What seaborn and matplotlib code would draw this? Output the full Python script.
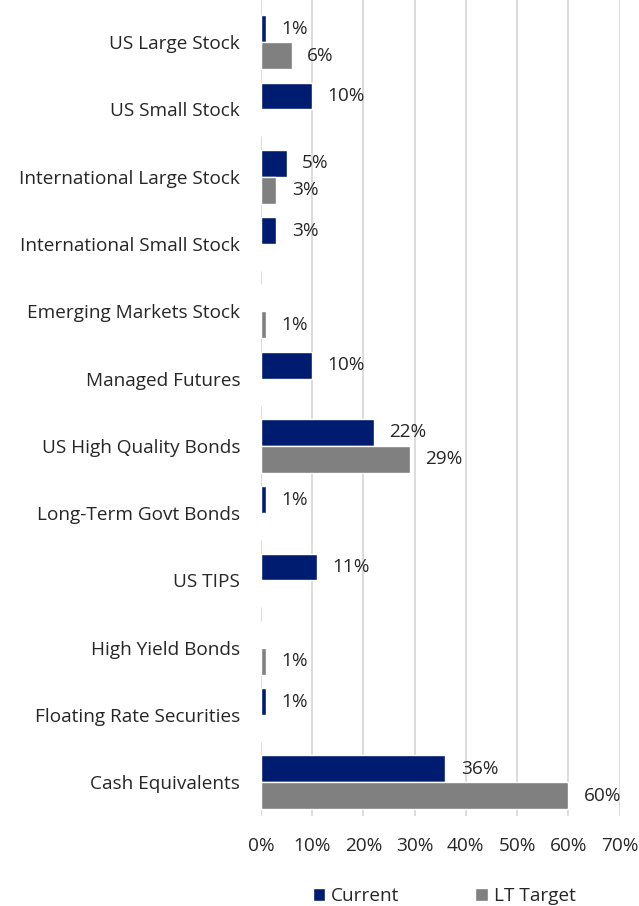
import matplotlib
matplotlib.use("Agg")
import matplotlib.pyplot as plt
import matplotlib.transforms as mtransforms
import seaborn as sns
import pandas as pd
from matplotlib.ticker import FuncFormatter, MultipleLocator

categories = [
    "US Large Stock", "US Small Stock", "International Large Stock",
    "International Small Stock", "Emerging Markets Stock", "Managed Futures",
    "US High Quality Bonds", "Long-Term Govt Bonds", "US TIPS",
    "High Yield Bonds", "Floating Rate Securities", "Cash Equivalents",
]
current = [1, 10, 5, 3, 0, 10, 22, 1, 11, 0, 1, 36]
lt_target = [6, 0, 3, 0, 1, 0, 29, 0, 0, 1, 0, 60]
series_names = ["Current", "LT Target"]
colors = ["#001C71", "#808080"]

df = pd.DataFrame({
    "Asset Class": categories * 2,
    "Allocation": current + lt_target,
    "Series": [series_names[0]] * len(categories) + [series_names[1]] * len(categories),
})

sns.set_theme(style="white")
plt.rcParams["font.family"] = ["Open Sans", "DejaVu Sans"]
plt.rcParams["text.color"] = "#262626"

FS = 13.7

fig = plt.figure(figsize=(6.39, 9.06), dpi=100)
ax = fig.add_axes([261 / 639, 1 - 816 / 906, (619.5 - 261) / 639, 816 / 906])

sns.barplot(
    data=df, x="Allocation", y="Asset Class", hue="Series", orient="h",
    palette=colors, width=0.8, dodge=True, ax=ax, saturation=1, legend=True,
)

# value labels, sitting a touch below each bar's centre
shift = mtransforms.ScaledTranslation(0, -3 / 100, fig.dpi_scale_trans)
for container, vals in zip(ax.containers, [current, lt_target]):
    labels = [f"{v:.0f}%" if v > 0 else "" for v in vals]
    texts = ax.bar_label(container, labels=labels, padding=11, fontsize=FS,
                         color="#262626")
    for t in texts:
        t.set_transform(t.get_transform() + shift)

ax.set_xlim(0, 70)
ax.set_ylim(len(categories) - 0.5, -0.5 - 8.5 / 67.3)
ax.xaxis.set_major_locator(MultipleLocator(10))
ax.xaxis.set_major_formatter(FuncFormatter(lambda v, p: f"{v:.0f}%"))
ax.grid(axis="x", color="#D9D9D9", linewidth=1.3)
ax.set_axisbelow(True)
for s in ax.spines.values():
    s.set_visible(False)
ax.tick_params(axis="x", length=0, pad=15, labelsize=FS, colors="#262626")
ax.tick_params(axis="y", length=0, pad=15, labelsize=FS, colors="#262626")
ax.set_xlabel("")
ax.set_ylabel("")

handles, labels = ax.get_legend_handles_labels()
ax.legend_.remove()
fig.legend(
    handles, labels, loc="center", bbox_to_anchor=(444 / 639, 1 - 896 / 906),
    ncol=2, frameon=False, fontsize=FS, handlelength=0.66, handleheight=0.66,
    handletextpad=0.3, columnspacing=4.0,
)

fig.savefig("out.png", dpi=100)
